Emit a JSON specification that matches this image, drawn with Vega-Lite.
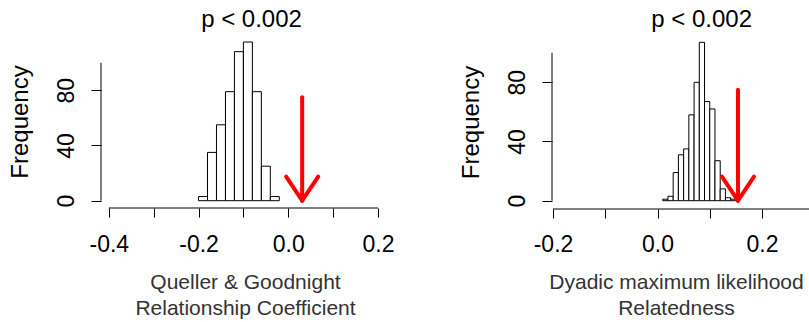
{
  "$schema": "https://vega.github.io/schema/vega-lite/v6.json",
  "padding": {"left": 8, "top": 8, "right": 0, "bottom": 0},
  "bounds": "flush",
  "spacing": 174,
  "background": "white",
  "config": {
    "view": {"stroke": null},
    "font": "Liberation Sans",
    "axis": {"grid": false, "domain": false, "tickColor": "black", "tickWidth": 1, "labelColor": "black", "labelFont": "Liberation Sans", "titleFont": "Liberation Sans", "labelFlush": false, "labelOverlap": false, "titleFontWeight": "normal"}
  },
  "datasets": {
    "qg": [
      {"bin_start": -0.20, "bin_end": -0.18, "count": 3},
      {"bin_start": -0.18, "bin_end": -0.16, "count": 35},
      {"bin_start": -0.16, "bin_end": -0.14, "count": 55},
      {"bin_start": -0.14, "bin_end": -0.12, "count": 79},
      {"bin_start": -0.12, "bin_end": -0.10, "count": 108},
      {"bin_start": -0.10, "bin_end": -0.08, "count": 115},
      {"bin_start": -0.08, "bin_end": -0.06, "count": 79},
      {"bin_start": -0.06, "bin_end": -0.04, "count": 25},
      {"bin_start": -0.04, "bin_end": -0.02, "count": 3}
    ],
    "dml": [
      {"bin_start": 0.01, "bin_end": 0.02, "count": 1},
      {"bin_start": 0.02, "bin_end": 0.03, "count": 3},
      {"bin_start": 0.03, "bin_end": 0.04, "count": 19},
      {"bin_start": 0.04, "bin_end": 0.05, "count": 31},
      {"bin_start": 0.05, "bin_end": 0.06, "count": 35},
      {"bin_start": 0.06, "bin_end": 0.07, "count": 58},
      {"bin_start": 0.07, "bin_end": 0.08, "count": 80},
      {"bin_start": 0.08, "bin_end": 0.09, "count": 107},
      {"bin_start": 0.09, "bin_end": 0.10, "count": 67},
      {"bin_start": 0.10, "bin_end": 0.11, "count": 62},
      {"bin_start": 0.11, "bin_end": 0.12, "count": 27},
      {"bin_start": 0.12, "bin_end": 0.13, "count": 8},
      {"bin_start": 0.13, "bin_end": 0.14, "count": 2},
      {"bin_start": 0.14, "bin_end": 0.15, "count": 1}
    ],
    "qg_arrow": [
      {"x": 0.031, "y": 75, "x2": 0.031, "y2": 0},
      {"x": -0.0047, "y": 17.4, "x2": 0.031, "y2": 0},
      {"x": 0.0667, "y": 17.4, "x2": 0.031, "y2": 0}
    ],
    "dml_arrow": [
      {"x": 0.154, "y": 75, "x2": 0.154, "y2": 0},
      {"x": 0.1233, "y": 16.2, "x2": 0.154, "y2": 0},
      {"x": 0.1847, "y": 16.2, "x2": 0.154, "y2": 0}
    ],
    "one": [{"k": 1}]
  },
  "hconcat": [
    {
      "width": 277,
      "height": 173,
      "title": {"text": "p < 0.002", "fontSize": 24, "fontWeight": "normal", "font": "Liberation Sans", "color": "black", "offset": 3, "dx": 12},
      "layer": [
        {
          "data": {"name": "qg"},
          "mark": {"type": "bar", "fill": "white", "stroke": "black", "strokeWidth": 1},
          "encoding": {
            "x": {
              "field": "bin_start", "type": "quantitative",
              "scale": {"domain": [-0.4174, 0.2], "nice": false, "zero": false},
              "axis": {
                "values": [-0.4, -0.3, -0.2, -0.1, 0, 0.1, 0.2],
                "labelExpr": "abs(round(datum.value*10)) % 2 === 0 ? (datum.value < -0.001 ? '-' : '') + format(abs(datum.value), '.1f') : ''",
                "tickSize": 9, "labelFontSize": 23, "labelBaseline": "alphabetic", "labelPadding": 34,
                "title": ["Queller  & Goodnight", "Relationship  Coefficient"],
                "titleFontSize": 21, "titleColor": "#333333", "titleBaseline": "alphabetic", "titleLineHeight": 26.5,
                "titleX": 144, "titleY": 80, "titleAlign": "center"
              }
            },
            "x2": {"field": "bin_end"},
            "y": {
              "field": "count", "type": "quantitative",
              "scale": {"domain": [-5.29, 120.07], "nice": false, "zero": false},
              "axis": {
                "values": [0, 20, 40, 60, 80, 100],
                "labelExpr": "datum.value % 40 === 0 ? datum.label : ''",
                "tickSize": 10, "labelFontSize": 23, "labelAngle": -90, "labelAlign": "center", "labelBaseline": "middle", "labelPadding": 25,
                "title": "Frequency", "titleFontSize": 24, "titleColor": "black", "titleBaseline": "alphabetic", "titleAngle": -90, "titleX": -73.6
              }
            },
            "y2": {"datum": 0}
          }
        },
        {
          "data": {"name": "one"},
          "mark": {"type": "rule", "color": "black", "strokeWidth": 1},
          "encoding": {"x": {"datum": -0.4174}, "y": {"datum": 0}, "y2": {"datum": 100}}
        },
        {
          "data": {"name": "one"},
          "mark": {"type": "rule", "color": "black", "strokeWidth": 1},
          "encoding": {"x": {"datum": -0.4}, "x2": {"datum": 0.2}, "y": {"datum": -5.29}}
        },
        {
          "data": {"name": "qg_arrow"},
          "mark": {"type": "rule", "color": "#ff0000", "strokeWidth": 4, "strokeCap": "round"},
          "encoding": {
            "x": {"field": "x", "type": "quantitative"},
            "x2": {"field": "x2"},
            "y": {"field": "y", "type": "quantitative"},
            "y2": {"field": "y2"}
          }
        }
      ]
    },
    {
      "width": 257.3,
      "height": 174,
      "title": {"text": "p < 0.002", "fontSize": 24, "fontWeight": "normal", "font": "Liberation Sans", "color": "black", "offset": 3, "dx": 21},
      "layer": [
        {
          "data": {"name": "dml"},
          "mark": {"type": "bar", "fill": "white", "stroke": "black", "strokeWidth": 1},
          "encoding": {
            "x": {
              "field": "bin_start", "type": "quantitative",
              "scale": {"domain": [-0.2019, 0.2905], "nice": false, "zero": false},
              "axis": {
                "values": [-0.2, -0.1, 0, 0.1, 0.2],
                "labelExpr": "abs(round(datum.value*10)) % 2 === 0 ? (datum.value < -0.001 ? '-' : '') + format(abs(datum.value), '.1f') : ''",
                "tickSize": 9, "labelFontSize": 23, "labelBaseline": "alphabetic", "labelPadding": 33,
                "title": ["Dyadic maximum  likelihood", "Relatedness"],
                "titleFontSize": 21, "titleColor": "#333333", "titleBaseline": "alphabetic", "titleLineHeight": 26.5,
                "titleX": 124, "titleY": 79, "titleAlign": "center"
              }
            },
            "x2": {"field": "bin_end"},
            "y": {
              "field": "count", "type": "quantitative",
              "scale": {"domain": [-5.61, 111.96], "nice": false, "zero": false},
              "axis": {
                "values": [0, 20, 40, 60, 80, 100],
                "labelExpr": "datum.value % 40 === 0 ? datum.label : ''",
                "tickSize": 10, "labelFontSize": 23, "labelAngle": -90, "labelAlign": "center", "labelBaseline": "middle", "labelPadding": 25,
                "title": "Frequency", "titleFontSize": 24, "titleColor": "black", "titleBaseline": "alphabetic", "titleAngle": -90, "titleX": -73.6
              }
            },
            "y2": {"datum": 0}
          }
        },
        {
          "data": {"name": "one"},
          "mark": {"type": "rule", "color": "black", "strokeWidth": 1},
          "encoding": {"x": {"datum": -0.2019}, "y": {"datum": 0}, "y2": {"datum": 100}}
        },
        {
          "data": {"name": "one"},
          "mark": {"type": "rule", "color": "black", "strokeWidth": 1},
          "encoding": {"x": {"datum": -0.2}, "x2": {"datum": 0.2905}, "y": {"datum": -5.61}}
        },
        {
          "data": {"name": "dml_arrow"},
          "mark": {"type": "rule", "color": "#ff0000", "strokeWidth": 4, "strokeCap": "round"},
          "encoding": {
            "x": {"field": "x", "type": "quantitative"},
            "x2": {"field": "x2"},
            "y": {"field": "y", "type": "quantitative"},
            "y2": {"field": "y2"}
          }
        }
      ]
    }
  ]
}
